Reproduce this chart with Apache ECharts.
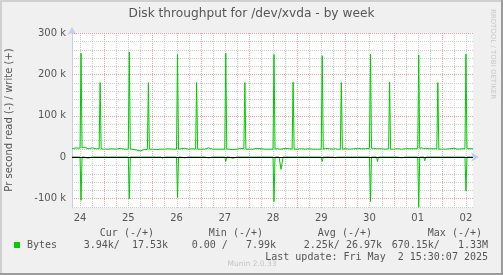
<!DOCTYPE html>
<html><head><meta charset="utf-8">
<script src="https://cdn.jsdelivr.net/npm/echarts@6/dist/echarts.min.js"></script>
<style>html,body{margin:0;padding:0;background:#f0f0f0}#c{width:503px;height:275px}</style>
</head><body><div id="c"></div>
<script>
// time in hours since Apr 24 00:00
const hours = [8,10,12,12.5,13,14,16,18,20,21.5,22,22.5,
24,26,28,30,32,34,36,36.5,37,38,40,42,44,45.5,46,46.5,
48,50,52,53,54,56,58,60,60.5,61,62,64,66,68,69.5,70,70.5,
72,74,76,78,80,82,84,84.5,85,86,88,90,92,93.5,94,94.5,
96,98,100,100.5,102,104,106,108,108.5,109,110,111,112,113,114,116,117.5,118,118.5,
120,122,124,126,128,130,132,132.5,133,134,136,138,139,140,141.5,142,142.5,
144,146,148,150,152,154,156,156.5,157,158,159.5,160,160.5,162,164,165.5,166,166.5,
168,170,172,174,176,178,180,180.5,181,182,183,183.5,184,186,188,189.5,190,190.5,
192,194,196,198,200,202,203.5,204,204.5,206,207.5];
// write bytes/s (k)
const writeK = [20,22,21,251,22,24,20,22,20,20,180,20,
19,19,20,19,21,19,19,254,19,19,17,15,18,18,180,19,
19,18,19,19,19,20,19,19,248,19,20,21,19,20,19,180,19,
19,19,22,19,19,19,19,251,19,19,18,19,21,20,180,19,
19,19,21,20,20,19,19,19,248,19,20,19,19,20,21,20,19,181,19,
19,20,19,20,19,19,19,245,19,21,20,19,20,19,19,180,19,
20,19,20,21,20,20,21,249,21,21,20,20,20,20,19,20,181,19,
19,20,19,20,20,20,20,247,21,22,20,19,21,20,20,20,180,19,
19,19,20,21,19,20,20,249,20,20,20];
// read bytes/s (k), drawn negative
const readK = [0,0,0,105,0,0,3,0,0,0,0,0,
0,0,0,0,0,0,0,101,0,0,0,0,0,0,0,0,
0,0,0,3,0,0,0,0,98,0,0,2,0,0,0,0,0,
0,0,2,0,0,0,0,11,0,0,3,0,0,0,0,0,
0,0,0,2,0,0,0,0,108,0,0,0,30,0,0,0,0,0,0,
0,0,0,0,0,0,0,11,0,0,0,0,2,0,0,0,0,
0,0,0,0,0,0,0,108,0,0,0,11,0,0,0,0,0,0,
0,0,2,0,0,0,0,122,0,0,0,9,0,0,0,0,0,0,
0,0,0,0,0,0,0,82,0,0,0];
const yTickValues = [-100000,0,100000,200000,300000];
const dayTickHours = [12,36,60,84,108,132,156,180,204];
const dayLabels = ['24','25','26','27','28','29','30','01','02'];
const legendHeaders = ['Cur (-/+)','Min (-/+)','Avg (-/+)','Max (-/+)'];
const legendValues = ['3.94k/  17.53k','0.00 /   7.99k','2.25k/ 26.97k','670.15k/   1.33M'];
const lastUpdate = 'Last update: Fri May  2 15:30:07 2025';

const X_MIN = 8, X_MAX = 207.5, Y_MIN = -123400, Y_MAX = 300000;
const GREEN = '#00cc00';
const RED_GRID = '#eba0a0', GRAY_GRID = '#cdcdcd';

const writeData = hours.map((h, i) => [h, writeK[i] * 1000]);
const readData = hours.map((h, i) => [h, -readK[i] * 1000]);

const mono = '"DejaVu Sans Mono", monospace';
const sans = '"DejaVu Sans", sans-serif';
const txt = (x, y, text, opts = {}) => ({
  type: 'text', x, y, silent: true, z: 20, rotation: opts.rotation || 0,
  style: {text, fill: opts.fill || '#555', font: opts.font || ('10px ' + mono),
    textAlign: opts.align || 'left', textVerticalAlign: 'middle'}
});
const headerRight = [154, 263, 372, 482];
const valueRight = [168, 276, 382, 488];

const graphics = [
  {type: 'rect', z: 20, shape: {x: 0, y: 0, width: 503, height: 2}, style: {fill: '#d0d0d0'}, silent: true},
  {type: 'rect', z: 20, shape: {x: 0, y: 0, width: 2, height: 275}, style: {fill: '#d0d0d0'}, silent: true},
  {type: 'rect', z: 20, shape: {x: 501, y: 0, width: 2, height: 275}, style: {fill: '#9c9c9c'}, silent: true},
  {type: 'rect', z: 20, shape: {x: 0, y: 273, width: 503, height: 2}, style: {fill: '#9c9c9c'}, silent: true},
  txt(251.5, 14, 'Disk throughput for /dev/xvda - by week', {align: 'center', font: '12.2px ' + sans}),
  txt(9, 120, 'Pr second read (-) / write (+)', {align: 'center', font: '10px ' + sans, rotation: Math.PI / 2}),
  txt(493, 54, 'RRDTOOL / TOBI OETIKER', {align: 'center', font: '7px ' + sans, fill: '#c8c8c8', rotation: -Math.PI / 2}),
  {type: 'rect', z: 20, shape: {x: 14, y: 242, width: 6, height: 6}, style: {fill: GREEN}, silent: true},
  txt(27, 245, 'Bytes'),
  txt(488, 257, lastUpdate, {align: 'right'}),
  txt(252, 264, 'Munin 2.0.33', {align: 'center', font: '7.5px ' + sans, fill: '#c4c4c4'})
];
legendHeaders.forEach((t, i) => graphics.push(txt(headerRight[i], 233, t, {align: 'right'})));
legendValues.forEach((t, i) => graphics.push(txt(valueRight[i], 245, t, {align: 'right'})));

const chart = echarts.init(document.getElementById('c'), null, {renderer: 'canvas'});
chart.setOption({
  animation: false,
  backgroundColor: '#f0f0f0',
  grid: {left: 72, top: 33, width: 401, height: 175, show: true, backgroundColor: '#ffffff', borderWidth: 0},
  xAxis: {
    type: 'value', min: X_MIN, max: X_MAX,
    axisLine: {show: true, lineStyle: {color: '#c6ccf4', width: 1}, symbol: ['none', 'arrow'], symbolSize: [7, 8], symbolOffset: [0, 6]},
    axisTick: {show: false},
    splitLine: {show: false},
    axisLabel: {customValues: dayTickHours, color: '#555', fontFamily: 'DejaVu Sans', fontSize: 10, margin: 5,
      formatter: v => dayLabels[dayTickHours.indexOf(v)] || ''}
  },
  yAxis: {
    type: 'value', min: Y_MIN, max: Y_MAX,
    axisLine: {show: true, onZero: false, lineStyle: {color: '#c6ccf4', width: 1}, symbol: ['none', 'arrow'], symbolSize: [7, 8], symbolOffset: [0, 6]},
    axisTick: {show: false},
    splitLine: {show: false},
    axisLabel: {customValues: yTickValues, color: '#555', fontFamily: 'DejaVu Sans', fontSize: 10, margin: 6,
      formatter: v => v === 0 ? '0' : (v / 1000) + ' k'}
  },
  series: [
    {type: 'line', z: 3, data: writeData, showSymbol: false, lineStyle: {color: GREEN, width: 1}, itemStyle: {color: GREEN}},
    {type: 'line', z: 3, data: readData, showSymbol: false, lineStyle: {color: GREEN, width: 1}, itemStyle: {color: GREEN},
      markLine: {z: 10, silent: true, symbol: 'none', label: {show: false}, animation: false,
        data: [{yAxis: 0, lineStyle: {color: '#000', type: 'solid', width: 1}}]}}
  ],
  graphic: graphics
});

// gridlines placed through the chart's own scales
const gl = [];
const seg = (a, b, major) => gl.push({type: 'line', z: 1, silent: true,
  shape: {x1: a[0], y1: a[1], x2: b[0], y2: b[1]},
  style: {stroke: major ? RED_GRID : GRAY_GRID, lineWidth: 1, lineDash: [1, 1]}});
for (let h = 12; h < X_MAX; h += 6) {
  const p1 = chart.convertToPixel({gridIndex: 0}, [h, Y_MIN]);
  const p2 = chart.convertToPixel({gridIndex: 0}, [h, Y_MAX]);
  const x = Math.round(p1[0]) + 0.5;
  seg([x, Math.round(p1[1])], [x, Math.round(p2[1])], h % 24 === 0);
}
for (let v = -120000; v <= 300000; v += 20000) {
  if (v === 0) continue;
  const p1 = chart.convertToPixel({gridIndex: 0}, [X_MIN, v]);
  const p2 = chart.convertToPixel({gridIndex: 0}, [X_MAX, v]);
  const y = Math.round(p1[1]) + 0.5;
  seg([Math.round(p1[0]), y], [Math.round(p2[0]), y], v % 100000 === 0);
}
chart.setOption({graphic: graphics.concat(gl)}, {replaceMerge: ['graphic']});
</script></body></html>
